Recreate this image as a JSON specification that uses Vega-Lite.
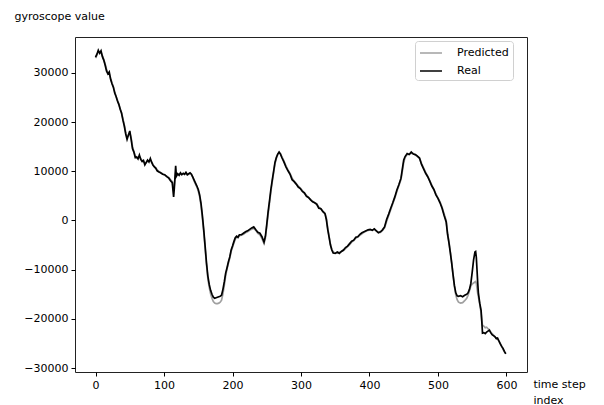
{
  "$schema": "https://vega.github.io/schema/vega-lite/v6.json",
  "width": 452,
  "height": 335,
  "autosize": {"type": "none"},
  "padding": {"left": 75, "top": 37, "right": 77, "bottom": 33},
  "background": "white",
  "config": {
    "font": "DejaVu Sans",
    "view": {"stroke": "#222222", "strokeWidth": 1},
    "axis": {
      "grid": false,
      "domain": false,
      "tickColor": "#000000",
      "tickSize": 4,
      "tickWidth": 1,
      "labelFont": "DejaVu Sans",
      "labelFontSize": 11,
      "labelColor": "#000000",
      "labelPadding": 3,
      "titleFont": "DejaVu Sans",
      "titleFontSize": 11,
      "titleFontWeight": "normal",
      "titleColor": "#000000"
    },
    "legend": {
      "orient": "none",
      "legendX": 340,
      "legendY": 4,
      "padding": 4,
      "strokeColor": "#d0d0d0",
      "fillColor": "white",
      "cornerRadius": 3,
      "symbolType": "M-1,0L2.14,0",
      "symbolSize": 196,
      "symbolStrokeWidth": 1.5,
      "labelFont": "DejaVu Sans",
      "labelFontSize": 11,
      "labelColor": "#000000",
      "labelOffset": 22,
      "rowPadding": 5,
      "title": null
    }
  },
  "data": {
    "values": [
      {"t": 0, "Real": 33200, "Predicted": 33000},
      {"t": 2, "Real": 33800, "Predicted": 33600},
      {"t": 4, "Real": 34600, "Predicted": 34300},
      {"t": 6, "Real": 34000, "Predicted": 34200},
      {"t": 8, "Real": 34500, "Predicted": 34100},
      {"t": 10, "Real": 33300, "Predicted": 33500},
      {"t": 12, "Real": 32600, "Predicted": 32700},
      {"t": 14, "Real": 31600, "Predicted": 31800},
      {"t": 16, "Real": 30400, "Predicted": 30800},
      {"t": 18, "Real": 29800, "Predicted": 29900},
      {"t": 20, "Real": 30200, "Predicted": 29800},
      {"t": 22, "Real": 28700, "Predicted": 28900},
      {"t": 24, "Real": 27800, "Predicted": 28000},
      {"t": 26, "Real": 27100, "Predicted": 27200},
      {"t": 28, "Real": 25900, "Predicted": 26200},
      {"t": 30, "Real": 25200, "Predicted": 25200},
      {"t": 32, "Real": 24300, "Predicted": 24500},
      {"t": 34, "Real": 23600, "Predicted": 23700},
      {"t": 36, "Real": 22600, "Predicted": 22700},
      {"t": 38, "Real": 21800, "Predicted": 21900},
      {"t": 40, "Real": 20400, "Predicted": 20700},
      {"t": 42, "Real": 19200, "Predicted": 19400},
      {"t": 44, "Real": 17600, "Predicted": 18000},
      {"t": 46, "Real": 16500, "Predicted": 16900},
      {"t": 48, "Real": 17400, "Predicted": 17300},
      {"t": 50, "Real": 18200, "Predicted": 17800},
      {"t": 52, "Real": 16500, "Predicted": 16800},
      {"t": 54, "Real": 14600, "Predicted": 15000},
      {"t": 56, "Real": 13900, "Predicted": 14000},
      {"t": 58, "Real": 12800, "Predicted": 13100},
      {"t": 60, "Real": 12900, "Predicted": 12900},
      {"t": 62, "Real": 12500, "Predicted": 12700},
      {"t": 64, "Real": 13300, "Predicted": 13000},
      {"t": 66, "Real": 12400, "Predicted": 12600},
      {"t": 68, "Real": 12000, "Predicted": 12200},
      {"t": 70, "Real": 12200, "Predicted": 12000},
      {"t": 72, "Real": 11300, "Predicted": 11700},
      {"t": 74, "Real": 11800, "Predicted": 11700},
      {"t": 76, "Real": 12300, "Predicted": 12100},
      {"t": 78, "Real": 11900, "Predicted": 12100},
      {"t": 80, "Real": 12600, "Predicted": 12300},
      {"t": 82, "Real": 11800, "Predicted": 11900},
      {"t": 84, "Real": 11200, "Predicted": 11300},
      {"t": 86, "Real": 10900, "Predicted": 10900},
      {"t": 88, "Real": 10600, "Predicted": 10700},
      {"t": 90, "Real": 10100, "Predicted": 10300},
      {"t": 92, "Real": 9900, "Predicted": 10000},
      {"t": 95, "Real": 9700, "Predicted": 9700},
      {"t": 98, "Real": 9400, "Predicted": 9500},
      {"t": 101, "Real": 9300, "Predicted": 9200},
      {"t": 104, "Real": 8900, "Predicted": 9000},
      {"t": 107, "Real": 8600, "Predicted": 8700},
      {"t": 110, "Real": 8000, "Predicted": 8200},
      {"t": 112, "Real": 7700, "Predicted": 7900},
      {"t": 114, "Real": 4800, "Predicted": 6000},
      {"t": 115, "Real": 6500, "Predicted": 7200},
      {"t": 117, "Real": 11100, "Predicted": 9800},
      {"t": 118, "Real": 9000, "Predicted": 9400},
      {"t": 120, "Real": 9500, "Predicted": 9300},
      {"t": 122, "Real": 9200, "Predicted": 9300},
      {"t": 124, "Real": 9700, "Predicted": 9400},
      {"t": 126, "Real": 9300, "Predicted": 9400},
      {"t": 128, "Real": 9600, "Predicted": 9500},
      {"t": 130, "Real": 9400, "Predicted": 9400},
      {"t": 132, "Real": 9800, "Predicted": 9500},
      {"t": 134, "Real": 9300, "Predicted": 9300},
      {"t": 136, "Real": 9500, "Predicted": 9400},
      {"t": 138, "Real": 9700, "Predicted": 9600},
      {"t": 140, "Real": 9400, "Predicted": 9300},
      {"t": 142, "Real": 8800, "Predicted": 8800},
      {"t": 144, "Real": 8200, "Predicted": 8000},
      {"t": 146, "Real": 7600, "Predicted": 7400},
      {"t": 148, "Real": 7000, "Predicted": 6800},
      {"t": 150, "Real": 6300, "Predicted": 6000},
      {"t": 152, "Real": 5200, "Predicted": 4800},
      {"t": 154, "Real": 3500, "Predicted": 3000},
      {"t": 156, "Real": 1000, "Predicted": 500},
      {"t": 158, "Real": -1900, "Predicted": -2300},
      {"t": 160, "Real": -5200, "Predicted": -5600},
      {"t": 162, "Real": -8600, "Predicted": -9000},
      {"t": 164, "Real": -11300, "Predicted": -11800},
      {"t": 166, "Real": -13000, "Predicted": -13600},
      {"t": 168, "Real": -14200, "Predicted": -14900},
      {"t": 170, "Real": -15000, "Predicted": -15800},
      {"t": 172, "Real": -15600, "Predicted": -16500},
      {"t": 174, "Real": -15800, "Predicted": -16800},
      {"t": 176, "Real": -15700, "Predicted": -16900},
      {"t": 178, "Real": -15600, "Predicted": -16900},
      {"t": 180, "Real": -15500, "Predicted": -16800},
      {"t": 182, "Real": -15400, "Predicted": -16600},
      {"t": 184, "Real": -15200, "Predicted": -16200},
      {"t": 186, "Real": -14000, "Predicted": -14900},
      {"t": 188, "Real": -12500, "Predicted": -13200},
      {"t": 190, "Real": -10700, "Predicted": -11200},
      {"t": 192, "Real": -9600, "Predicted": -9900},
      {"t": 194, "Real": -8400, "Predicted": -8700},
      {"t": 196, "Real": -7400, "Predicted": -7700},
      {"t": 198, "Real": -6000, "Predicted": -6300},
      {"t": 200, "Real": -5200, "Predicted": -5500},
      {"t": 202, "Real": -4300, "Predicted": -4600},
      {"t": 204, "Real": -3500, "Predicted": -3800},
      {"t": 206, "Real": -3200, "Predicted": -3400},
      {"t": 208, "Real": -3400, "Predicted": -3500},
      {"t": 210, "Real": -2900, "Predicted": -3100},
      {"t": 213, "Real": -2900, "Predicted": -3000},
      {"t": 216, "Real": -2600, "Predicted": -2800},
      {"t": 219, "Real": -2300, "Predicted": -2500},
      {"t": 222, "Real": -2100, "Predicted": -2300},
      {"t": 225, "Real": -1800, "Predicted": -2000},
      {"t": 228, "Real": -1500, "Predicted": -1800},
      {"t": 231, "Real": -1300, "Predicted": -1600},
      {"t": 234, "Real": -1900, "Predicted": -2000},
      {"t": 237, "Real": -2400, "Predicted": -2600},
      {"t": 240, "Real": -2600, "Predicted": -2900},
      {"t": 243, "Real": -3300, "Predicted": -3700},
      {"t": 246, "Real": -4400, "Predicted": -4700},
      {"t": 248, "Real": -3200, "Predicted": -3600},
      {"t": 250, "Real": -800, "Predicted": -1200},
      {"t": 252, "Real": 1800, "Predicted": 1200},
      {"t": 254, "Real": 4000, "Predicted": 3500},
      {"t": 256, "Real": 6300, "Predicted": 5800},
      {"t": 258, "Real": 8200, "Predicted": 7800},
      {"t": 260, "Real": 10000, "Predicted": 9700},
      {"t": 262, "Real": 11800, "Predicted": 11500},
      {"t": 264, "Real": 12800, "Predicted": 12600},
      {"t": 266, "Real": 13500, "Predicted": 13400},
      {"t": 268, "Real": 13900, "Predicted": 13800},
      {"t": 270, "Real": 13500, "Predicted": 13600},
      {"t": 272, "Real": 12800, "Predicted": 13000},
      {"t": 275, "Real": 11900, "Predicted": 12100},
      {"t": 278, "Real": 10900, "Predicted": 11100},
      {"t": 281, "Real": 10100, "Predicted": 10300},
      {"t": 284, "Real": 9400, "Predicted": 9600},
      {"t": 287, "Real": 8300, "Predicted": 8600},
      {"t": 290, "Real": 7900, "Predicted": 8000},
      {"t": 293, "Real": 7400, "Predicted": 7500},
      {"t": 296, "Real": 6800, "Predicted": 7000},
      {"t": 299, "Real": 6500, "Predicted": 6600},
      {"t": 302, "Real": 5900, "Predicted": 6100},
      {"t": 305, "Real": 5600, "Predicted": 5600},
      {"t": 308, "Real": 4900, "Predicted": 5100},
      {"t": 311, "Real": 4700, "Predicted": 4600},
      {"t": 314, "Real": 4200, "Predicted": 4300},
      {"t": 317, "Real": 3800, "Predicted": 3900},
      {"t": 320, "Real": 3600, "Predicted": 3600},
      {"t": 323, "Real": 3300, "Predicted": 3400},
      {"t": 326, "Real": 2500, "Predicted": 2700},
      {"t": 329, "Real": 2400, "Predicted": 2400},
      {"t": 332, "Real": 1800, "Predicted": 1900},
      {"t": 335, "Real": 1400, "Predicted": 1500},
      {"t": 337, "Real": 200, "Predicted": 500},
      {"t": 339, "Real": -1800, "Predicted": -1500},
      {"t": 341, "Real": -3400, "Predicted": -3200},
      {"t": 343, "Real": -5000, "Predicted": -4800},
      {"t": 345, "Real": -6000, "Predicted": -5900},
      {"t": 347, "Real": -6600, "Predicted": -6400},
      {"t": 350, "Real": -6700, "Predicted": -6600},
      {"t": 353, "Real": -6400, "Predicted": -6500},
      {"t": 356, "Real": -6700, "Predicted": -6500},
      {"t": 359, "Real": -6300, "Predicted": -6300},
      {"t": 362, "Real": -6000, "Predicted": -6100},
      {"t": 365, "Real": -5500, "Predicted": -5700},
      {"t": 368, "Real": -5200, "Predicted": -5300},
      {"t": 371, "Real": -4700, "Predicted": -4900},
      {"t": 374, "Real": -4200, "Predicted": -4400},
      {"t": 377, "Real": -4000, "Predicted": -4100},
      {"t": 380, "Real": -3400, "Predicted": -3600},
      {"t": 383, "Real": -3300, "Predicted": -3300},
      {"t": 386, "Real": -2800, "Predicted": -3000},
      {"t": 389, "Real": -2500, "Predicted": -2700},
      {"t": 392, "Real": -2300, "Predicted": -2400},
      {"t": 395, "Real": -2100, "Predicted": -2200},
      {"t": 398, "Real": -1900, "Predicted": -2000},
      {"t": 401, "Real": -1800, "Predicted": -1900},
      {"t": 404, "Real": -2000, "Predicted": -2000},
      {"t": 407, "Real": -1700, "Predicted": -1800},
      {"t": 410, "Real": -2100, "Predicted": -2100},
      {"t": 413, "Real": -2500, "Predicted": -2400},
      {"t": 416, "Real": -2300, "Predicted": -2400},
      {"t": 419, "Real": -1900, "Predicted": -2000},
      {"t": 422, "Real": -1300, "Predicted": -1500},
      {"t": 425, "Real": 200, "Predicted": -200},
      {"t": 428, "Real": 1300, "Predicted": 1000},
      {"t": 431, "Real": 2500, "Predicted": 2200},
      {"t": 434, "Real": 3600, "Predicted": 3400},
      {"t": 437, "Real": 4800, "Predicted": 4600},
      {"t": 440, "Real": 6200, "Predicted": 5900},
      {"t": 443, "Real": 7300, "Predicted": 7100},
      {"t": 446, "Real": 8600, "Predicted": 8300},
      {"t": 448, "Real": 10500, "Predicted": 10000},
      {"t": 450, "Real": 12300, "Predicted": 11800},
      {"t": 452, "Real": 13000, "Predicted": 12800},
      {"t": 455, "Real": 13600, "Predicted": 13400},
      {"t": 458, "Real": 13400, "Predicted": 13500},
      {"t": 461, "Real": 13900, "Predicted": 13700},
      {"t": 464, "Real": 13500, "Predicted": 13600},
      {"t": 467, "Real": 13400, "Predicted": 13300},
      {"t": 470, "Real": 13100, "Predicted": 13000},
      {"t": 473, "Real": 12700, "Predicted": 12700},
      {"t": 476, "Real": 11400, "Predicted": 11600},
      {"t": 479, "Real": 10500, "Predicted": 10700},
      {"t": 482, "Real": 9600, "Predicted": 9800},
      {"t": 485, "Real": 8900, "Predicted": 9000},
      {"t": 488, "Real": 8000, "Predicted": 8100},
      {"t": 491, "Real": 7000, "Predicted": 7200},
      {"t": 494, "Real": 6300, "Predicted": 6300},
      {"t": 497, "Real": 5200, "Predicted": 5400},
      {"t": 500, "Real": 4500, "Predicted": 4600},
      {"t": 503, "Real": 3600, "Predicted": 3800},
      {"t": 506, "Real": 2500, "Predicted": 2700},
      {"t": 509, "Real": 1000, "Predicted": 1300},
      {"t": 512, "Real": -300, "Predicted": 0},
      {"t": 514, "Real": -2800, "Predicted": -2500},
      {"t": 516, "Real": -4500, "Predicted": -4300},
      {"t": 518, "Real": -6500, "Predicted": -6300},
      {"t": 520, "Real": -8600, "Predicted": -8500},
      {"t": 522, "Real": -11000, "Predicted": -11000},
      {"t": 524, "Real": -13200, "Predicted": -13400},
      {"t": 526, "Real": -14700, "Predicted": -15100},
      {"t": 528, "Real": -15300, "Predicted": -16100},
      {"t": 530, "Real": -15400, "Predicted": -16600},
      {"t": 533, "Real": -15300, "Predicted": -16800},
      {"t": 536, "Real": -15500, "Predicted": -16700},
      {"t": 539, "Real": -15200, "Predicted": -16300},
      {"t": 542, "Real": -15000, "Predicted": -15800},
      {"t": 544, "Real": -14700, "Predicted": -15200},
      {"t": 546, "Real": -14000, "Predicted": -14300},
      {"t": 548, "Real": -12800, "Predicted": -13300},
      {"t": 550, "Real": -10500, "Predicted": -12900},
      {"t": 552, "Real": -8000, "Predicted": -12700},
      {"t": 554, "Real": -6400, "Predicted": -12500},
      {"t": 555, "Real": -6300, "Predicted": -12400},
      {"t": 556, "Real": -7500, "Predicted": -12800},
      {"t": 557, "Real": -10000, "Predicted": -13800},
      {"t": 558, "Real": -12600, "Predicted": -14800},
      {"t": 559, "Real": -14700, "Predicted": -15500},
      {"t": 561, "Real": -16800, "Predicted": -17000},
      {"t": 563, "Real": -18300, "Predicted": -18900},
      {"t": 564, "Real": -20500, "Predicted": -20300},
      {"t": 565, "Real": -22900, "Predicted": -21300},
      {"t": 567, "Real": -22800, "Predicted": -21500},
      {"t": 569, "Real": -23000, "Predicted": -21800},
      {"t": 571, "Real": -22700, "Predicted": -21700},
      {"t": 573, "Real": -22500, "Predicted": -22000},
      {"t": 575, "Real": -22300, "Predicted": -22200},
      {"t": 577, "Real": -22800, "Predicted": -22700},
      {"t": 579, "Real": -23200, "Predicted": -23000},
      {"t": 581, "Real": -23400, "Predicted": -23300},
      {"t": 583, "Real": -23600, "Predicted": -23600},
      {"t": 585, "Real": -24000, "Predicted": -23900},
      {"t": 587, "Real": -23900, "Predicted": -24100},
      {"t": 589, "Real": -24500, "Predicted": -24500},
      {"t": 591, "Real": -25100, "Predicted": -25000},
      {"t": 593, "Real": -25600, "Predicted": -25600},
      {"t": 595, "Real": -26000, "Predicted": -26200},
      {"t": 597, "Real": -26600, "Predicted": -26700},
      {"t": 599, "Real": -27100, "Predicted": -27000}
    ]
  },
  "transform": [
    {"fold": ["Predicted", "Real"], "as": ["series", "value"]}
  ],
  "mark": {"type": "line", "strokeWidth": 1.7, "clip": true},
  "encoding": {
    "x": {
      "field": "t",
      "type": "quantitative",
      "scale": {"domain": [-30, 630], "nice": false, "zero": false},
      "axis": {
        "values": [0, 100, 200, 300, 400, 500, 600],
        "title": ["time step", "index"],
        "titleAlign": "left",
        "titleAnchor": null,
        "titleBaseline": "alphabetic",
        "titleX": 458,
        "titleY": 15,
        "titleLineHeight": 16,
        "labelFlush": false
      }
    },
    "y": {
      "field": "value",
      "type": "quantitative",
      "scale": {"domain": [-30800, 37300], "nice": false, "zero": false},
      "axis": {
        "values": [-30000, -20000, -10000, 0, 10000, 20000, 30000],
        "format": "d",
        "title": "gyroscope value",
        "titleAngle": 0,
        "titleAlign": "left",
        "titleAnchor": null,
        "titleBaseline": "alphabetic",
        "titleX": -61,
        "titleY": -18,
        "labelFlush": false
      }
    },
    "color": {
      "field": "series",
      "type": "nominal",
      "scale": {"domain": ["Predicted", "Real"], "range": ["#a0a0a0", "#000000"]},
      "legend": {"title": null}
    },
    "order": {"field": "t", "type": "quantitative"}
  }
}
